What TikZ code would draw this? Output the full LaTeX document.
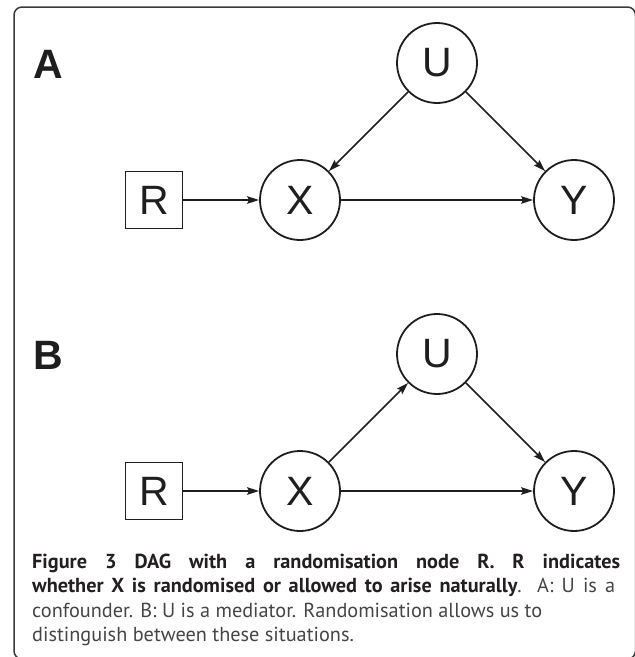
\documentclass[tikz,border=0pt]{standalone}
\usepackage{fontspec}
\setmainfont{Liberation Sans}
\newfontfamily\capfont{PT Sans}
\usetikzlibrary{arrows.meta}
\definecolor{ink}{HTML}{1E1E1E}
\definecolor{frameink}{HTML}{3A3A3A}
\definecolor{capbold}{HTML}{231F20}
\definecolor{captxt}{HTML}{454545}
\newlength\capw
\begin{document}
\settowidth\capw{\capfont\fontsize{10}{12}\selectfont confounder. B: U is a mediator. Randomisation allows us to}%
\pgfmathsetmacro\capsz{10*510/\capw}%
\def\cf{\capfont\fontsize{\capsz}{\capsz}\selectfont}%
\begin{tikzpicture}[x=1pt,y=-1pt,
  var/.style={circle, draw=ink, line width=1.8pt, minimum size=80pt, inner sep=0pt,
    font=\fontsize{41}{41}\selectfont, text=ink},
  rbox/.style={rectangle, draw=ink, line width=1.8pt, minimum size=57pt, inner sep=0pt,
    font=\fontsize{41}{41}\selectfont, text=ink},
  arr/.style={-{Stealth[length=12pt,width=7.5pt,inset=2pt]}, line width=1.7pt, draw=ink},
  panel/.style={font=\bfseries\fontsize{41}{41}\selectfont, text=ink, inner sep=0pt},
  capline/.style={anchor=base west, inner sep=0pt}]
\useasboundingbox (0,0) rectangle (635,657);
\begin{scope}
  \clip (0,0) rectangle (635,657);
  \draw[frameink, line width=1.5pt, rounded corners=8pt] (14,7) rectangle (635.5,659);
\end{scope}
% panel A
\node[panel] (labA) at (48,64) {A};
\node[var] (UA) at (437,63) {U};
\node[var] (XA) at (300,200) {X};
\node[var] (YA) at (574,200) {Y};
\node[rbox] (RA) at (154,200) {R};
\draw[arr] (RA) -- (XA);
\draw[arr] (XA) -- (YA);
\draw[arr] (UA) -- (XA);
\draw[arr] (UA) -- (YA);
% panel B
\node[panel] (labB) at (48,355) {B};
\node[var] (UB) at (437,354) {U};
\node[var] (XB) at (300,491) {X};
\node[var] (YB) at (574,491) {Y};
\node[rbox] (RB) at (154,491) {R};
\draw[arr] (RB) -- (XB);
\draw[arr] (XB) -- (YB);
\draw[arr] (XB) -- (UB);
\draw[arr] (UB) -- (YB);
% caption
\node[capline, text=capbold] (cap1) at (32,568) {\cf\bfseries\makebox[588pt][s]{Figure 3 DAG with a randomisation node R. R indicates}};
\node[capline] (cap2) at (32,592) {\cf\makebox[583pt][s]{\textcolor{capbold}{\bfseries whether X is randomised or allowed to arise naturally}\textcolor{captxt}{. A: U is a}}};
\node[capline, text=captxt] (cap3) at (32,617) {\cf confounder. B: U is a mediator. Randomisation allows us to};
\node[capline, text=captxt] (cap4) at (32,641) {\cf distinguish between these situations.};
\end{tikzpicture}
\end{document}
